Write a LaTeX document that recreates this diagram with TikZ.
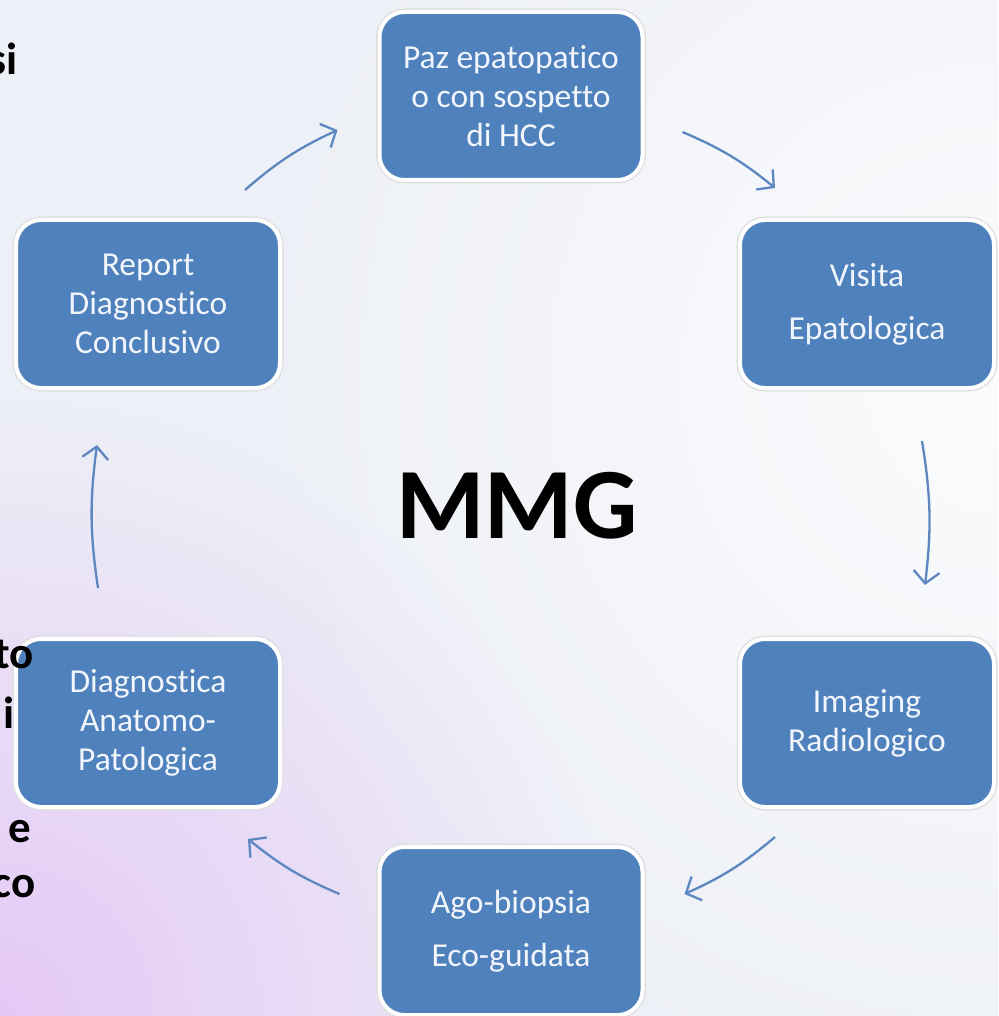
\documentclass[tikz,border=0pt]{standalone}
\usepackage{fontspec}
\setmainfont[Ligatures=NoCommon]{Carlito}
\usetikzlibrary{arrows.meta,fadings}
\definecolor{sfondo}{RGB}{237,240,246}
\definecolor{viola}{RGB}{229,200,247}
\definecolor{blu}{RGB}{79,129,189}
\definecolor{frecciablu}{RGB}{93,135,192}
\definecolor{testo}{RGB}{242,246,252}
% radial fading for the background glow
\tikzfading[name=sfuma, inner color=transparent!0, outer color=transparent!100]
\tikzset{
    %Define standard arrow tip
    >={Straight Barb[length=12pt,width=26pt]},
    %Define style for boxes
    blocco/.style={
           rectangle,
           rounded corners=25pt,
           fill=blu,
           draw=white,
           line width=4pt,
           preaction={draw=black!12, line width=7pt},
           text=testo,
           minimum width=263pt,
           minimum height=168pt,
           align=center,
           font=\fontsize{33.5}{39}\selectfont},
    % Define arrow style
    freccia/.style={
           ->,
           draw=frecciablu,
           line width=2.3pt},
    % Define style for the cut words on the left
    frammento/.style={
           anchor=base east,
           inner sep=0pt,
           font=\fontsize{45}{54}\selectfont\bfseries}
}

\begin{document}
\begin{tikzpicture}[x=1pt, y=-1pt]
  \useasboundingbox (0,0) rectangle (998,1016);
  \clip (0,0) rectangle (998,1016);
  % background
  \fill[sfondo] (0,0) rectangle (998,1016);
  \fill[white, path fading=sfuma, opacity=0.8] (998,380) circle (760);
  \fill[viola, path fading=sfuma] (0,1016) circle (620);

  \node[blocco] (paz) at (511,96) {Paz epatopatico\\o con sospetto\\di HCC};
  \node[blocco, minimum width=254pt] (visita) at (867,304) {Visita\\[14pt]Epatologica};
  \node[blocco, minimum width=254pt] (imaging) at (867,723) {Imaging\\Radiologico};
  \node[blocco] (ago) at (511,931) {Ago-biopsia\\[14pt]Eco-guidata};
  \node[blocco, minimum width=264pt] (diagnostica) at (148,723) {Diagnostica\\Anatomo-\\Patologica};
  \node[blocco, minimum width=264pt] (report) at (148,304) {Report\\Diagnostico\\Conclusivo};

  % cycle arrows
  \draw[freccia] ([shift={(-37,-28)}]report.north east) to[bend left=8] ([shift={(-40,34)}]paz.west);
  \draw[freccia] ([shift={(38,36)}]paz.east) to[bend left=8] ([shift={(37,-30)}]visita.north west);
  \draw[freccia] ([shift={(55,51)}]visita.south) to[bend left=8] ([shift={(58,-52)}]imaging.north);
  \draw[freccia] ([shift={(37,28)}]imaging.south west) to[bend left=8] ([shift={(40,-37)}]ago.east);
  \draw[freccia] ([shift={(-38,-37)}]ago.west) to[bend left=8] ([shift={(-34,30)}]diagnostica.south east);
  \draw[freccia] ([shift={(-50,-49)}]diagnostica.north) to[bend left=8] ([shift={(-51,55)}]report.south);

  \node[frammento] (si) at (18,75) {si};
  \node[frammento] (to) at (34,668) {to};
  \node[frammento] (i) at (15,728) {i};
  \node[frammento] (e) at (31,842) {e};
  \node[frammento] (co) at (36,897) {co};

  \node[font=\fontsize{101}{120}\selectfont\bfseries, anchor=base] (mmg) at (517,538) {MMG};
\end{tikzpicture}
\end{document}
